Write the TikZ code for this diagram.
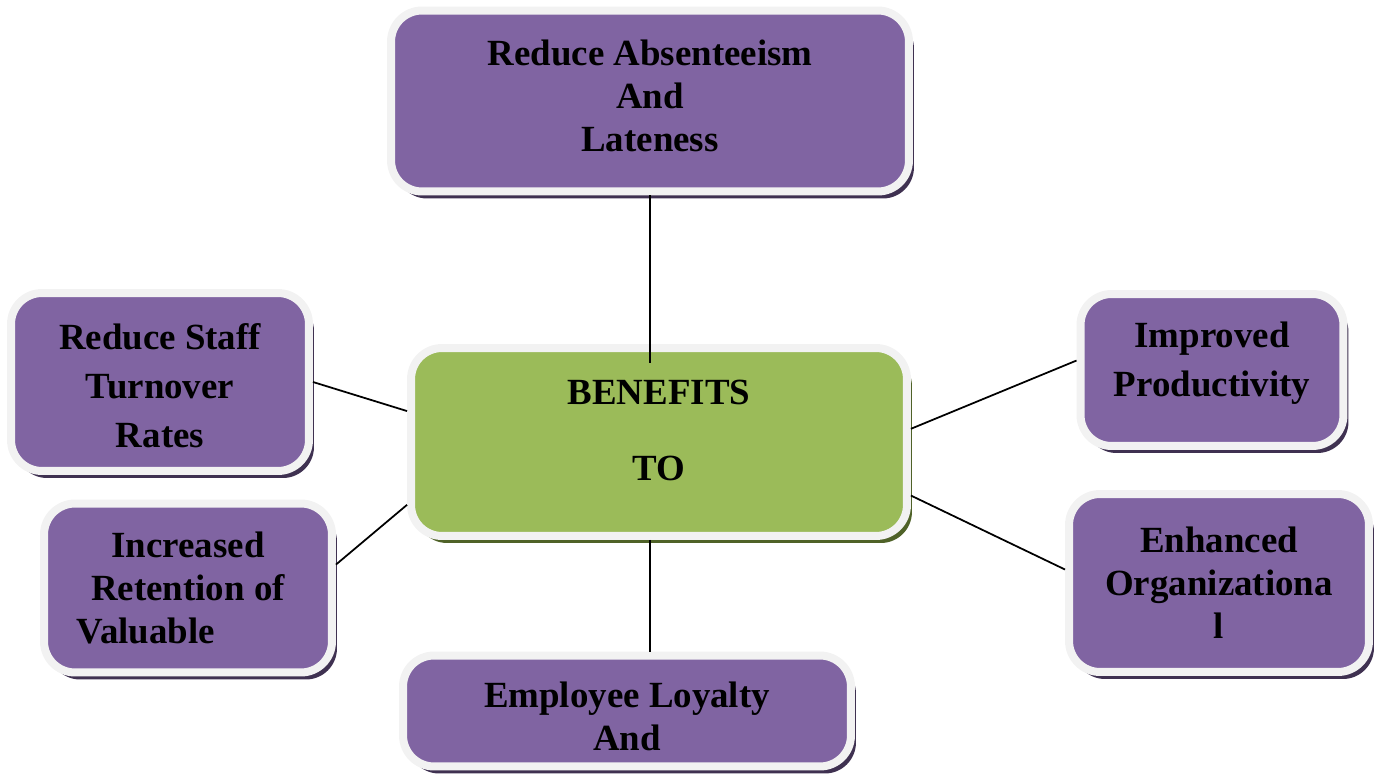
\documentclass[tikz,border=0pt]{standalone}
\usepackage{fontspec}
\setmainfont{Liberation Serif}
\usetikzlibrary{calc}
\usetikzlibrary{positioning}
\usetikzlibrary{shadows}

\definecolor{boxpurple}{HTML}{8064A2}
\definecolor{boxgreen}{HTML}{9BBB59}
\definecolor{rimwhite}{HTML}{F2F2F2}
\definecolor{purpleshade}{HTML}{3F3151}
\definecolor{greenshade}{HTML}{4F6228}

\begin{document}
\begin{tikzpicture}[x=0.02cm,y=-0.02cm,
    box/.style={rounded corners=0.62cm, draw=rimwhite, line width=0.16cm,
      align=center, inner sep=0pt, text=black,
      font=\fontsize{21}{24.5}\selectfont\bfseries},
    purplebox/.style={box, fill=boxpurple,
      drop shadow={shadow xshift=0.1cm, shadow yshift=-0.14cm,
        fill=purpleshade, opacity=1}},
    greenbox/.style={box, fill=boxgreen,
      drop shadow={shadow xshift=0.1cm, shadow yshift=-0.14cm,
        fill=greenshade, opacity=1}},
    link/.style={line width=1pt}]
    \useasboundingbox (0,0) rectangle (1374,774);
    \node[greenbox, minimum width=9.92cm, minimum height=3.76cm, text depth=13.6pt]
      (benefits) at (659,442) {BENEFITS\\[18.5pt]TO};
    \node[purplebox, minimum width=10.36cm, minimum height=3.62cm, text depth=5.7pt]
      (absent) at (650,101) {Reduce Absenteeism\\And\\Lateness};
    \node[purplebox, minimum width=5.96cm, minimum height=3.56cm]
      (turnover) at (160,382) {\rule{0pt}{19pt}Reduce Staff\\[3.3pt]Turnover\\[3.3pt]Rates};
    \node[purplebox, minimum width=5.76cm, minimum height=3.38cm]
      (retention) at (188,588) {Increased\\Retention of\\Valuable\hspace*{1.68cm}};
    \node[purplebox, minimum width=5.26cm, minimum height=3.04cm, text depth=12pt]
      (productivity) at (1212,370) {Improved\\[3.3pt]Productivity};
    \node[purplebox, minimum width=6cm, minimum height=3.56cm]
      (organizational) at (1219,583) {Enhanced\\Organizationa\\l};
    \node[purplebox, minimum width=8.96cm, minimum height=2.22cm]
      (loyalty) at (627,711) {\rule{0pt}{21pt}Employee Loyalty\\And};
    \draw[link] (absent.south) -- ([yshift=-0.38cm]absent.south |- benefits.north);
    \draw[link] (absent.south |- benefits.south) -- (absent.south |- loyalty.north);
    \foreach \n/\a/\b in {turnover/0/173, retention/9/194,
      productivity/176/3, organizational/175/348}
      \draw[link] (\n.\a) -- (benefits.\b);
  \end{tikzpicture}
\end{document}
